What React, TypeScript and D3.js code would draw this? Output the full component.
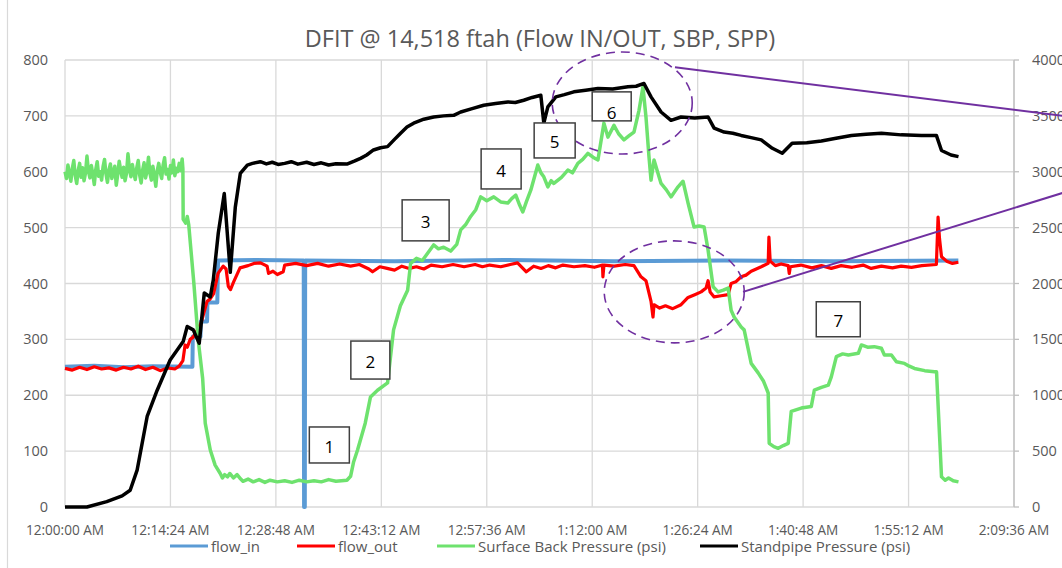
import React from 'react';
import * as d3 from 'd3';

const W = 1062;
const H = 568;

// x axis: minutes after 12:00:00 AM, one tick every 14.4 min
const xTickLabels = [
  '12:00:00 AM', '12:14:24 AM', '12:28:48 AM', '12:43:12 AM', '12:57:36 AM',
  '1:12:00 AM', '1:26:24 AM', '1:40:48 AM', '1:55:12 AM', '2:09:36 AM',
];
const leftTicks = [0, 100, 200, 300, 400, 500, 600, 700, 800];
const rightTicks = [0, 500, 1000, 1500, 2000, 2500, 3000, 3500, 4000];

const seriesNames = ['flow_in', 'flow_out', 'Surface Back Pressure (psi)', 'Standpipe Pressure (psi)'];
const seriesColors = ['#5b9bd5', '#ff0000', '#6ee26e', '#000000'];

// [minute, value]
const flowIn: [number, number][] = [
  [0, 251], [4, 253], [8, 250], [12, 252], [17.4, 251], [17.45, 305], [18.5, 305], [18.55, 332],
  [19.4, 332], [19.45, 366], [20.8, 366], [20.9, 441], [26, 442], [32.6, 441], [32.65, 0],
  [32.75, 0], [32.8, 441], [45, 440], [60, 442], [75, 440], [90, 441], [105, 440], [122.0, 441],
];

const flowOut: [number, number][] = [
  [0, 248], [1, 245], [2, 250], [3, 246], [4, 251], [5, 247], [6, 249], [7, 245], [8, 250],
  [9, 247], [10, 252], [11, 246], [12, 250], [13, 244], [14, 249], [15, 247], [15.6, 252],
  [16.1, 262], [16.4, 290], [16.7, 286], [17.1, 300], [17.5, 304], [18.3, 322], [18.6, 330],
  [19.4, 368], [19.8, 372], [20.3, 382], [20.9, 418], [21.6, 431], [22.0, 426], [22.3, 395],
  [22.6, 389], [23.0, 402], [23.9, 428], [25.0, 432], [25.8, 436], [26.7, 437], [27.6, 431],
  [27.8, 418], [28.4, 422], [29.0, 416], [29.8, 421], [30.0, 433], [31.5, 436], [33, 432],
  [34.5, 436], [36, 431], [37.5, 435], [39, 431], [40.2, 434], [41.5, 426], [42.0, 421],
  [43.0, 430], [44, 427], [45.0, 424], [46.0, 431], [47, 427], [48.0, 430], [49, 426],
  [50.0, 433], [51.5, 430], [53, 434], [54.5, 430], [56, 434], [57, 430], [58, 433],
  [59.5, 430], [60.8, 434], [61.8, 437], [63.0, 421], [64.0, 431], [65, 427], [66.0, 432],
  [67, 428], [68, 433], [69.5, 430], [71, 432], [72.3, 429], [73.4, 433], [73.46, 412],
  [73.6, 433], [75, 431], [76.5, 434], [77.7, 432], [78.66, 412], [79.34, 405], [80.03, 368],
  [80.3, 340], [80.44, 362], [81.2, 356], [82.0, 360], [83, 355], [84.13, 362], [85.09, 375],
  [86.0, 380], [86.87, 385], [87.55, 392], [87.82, 405], [88.1, 385], [88.65, 376],
  [89.6, 378], [90.56, 380], [90.97, 400], [91.6, 403], [92.34, 412], [93.0, 415],
  [93.71, 422], [94.4, 426], [95.08, 430], [96.03, 436], [96.13, 483], [96.3, 440],
  [97.0, 432], [97.8, 435], [98.77, 432], [98.91, 418], [99.05, 430], [100.5, 433],
  [102, 428], [103.3, 432], [104.65, 427], [106.0, 432], [107.5, 429], [109, 433],
  [110.1, 427], [111.5, 431], [113, 428], [114.2, 431], [115.6, 429], [117, 432],
  [119.0, 434], [119.23, 519], [119.43, 480], [119.7, 448], [120.4, 440], [121.2, 436],
  [122.0, 438],
];

const sbp: [number, number][] = [
  [0.0, 600], [0.2, 588], [0.4, 612], [0.6, 597], [0.8, 583], [1.0, 606], [1.2, 620], [1.4, 593],
  [1.6, 579], [1.8, 602], [2.0, 615], [2.2, 590], [2.4, 607], [2.6, 584], [2.8, 598], [3.0, 628],
  [3.2, 601], [3.4, 589], [3.6, 611], [3.8, 595], [4.0, 577], [4.2, 604], [4.4, 618], [4.6, 592],
  [4.8, 600], [5.0, 585], [5.2, 609], [5.4, 622], [5.6, 596], [5.8, 581], [6.0, 603], [6.2, 614],
  [6.4, 588], [6.6, 599], [6.8, 610], [7.0, 576], [7.2, 595], [7.4, 619], [7.6, 603], [7.8, 590],
  [8.0, 608], [8.2, 584], [8.4, 597], [8.6, 632], [8.8, 605], [9.0, 591], [9.2, 613], [9.4, 598],
  [9.6, 586], [9.8, 607], [10.0, 620], [10.2, 594], [10.4, 580], [10.6, 603], [10.8, 616],
  [11.0, 589], [11.2, 601], [11.4, 626], [11.6, 597], [11.8, 585], [12.0, 610], [12.2, 593],
  [12.4, 574], [12.6, 602], [12.8, 615], [13.0, 599], [13.2, 588], [13.4, 612], [13.6, 625],
  [13.8, 596], [14.0, 604], [14.2, 587], [14.4, 611], [14.6, 598], [14.8, 621], [15.0, 593],
  [15.2, 606], [15.4, 600], [15.6, 615], [15.8, 602], [16.0, 623], [16.1, 605],
  [16.14, 515], [16.5, 508], [16.7, 520], [16.9, 505], [17.24, 454], [17.6, 400], [18.19, 299],
  [18.8, 230], [19.15, 150], [19.84, 102], [20.5, 75], [21.2, 60], [21.5, 52], [21.8, 58],
  [22.2, 54], [22.5, 60], [23.0, 52], [23.5, 58], [24.0, 50], [24.3, 46], [25.0, 50], [25.7, 45],
  [26.5, 49], [27.3, 44], [28, 48], [29, 45], [30, 47], [31, 44], [32, 48], [33, 45], [34, 47],
  [35, 45], [36, 49], [37, 46], [38.5, 48], [39.0, 55], [39.4, 80], [39.95, 102], [41.0, 150],
  [41.72, 197], [42.68, 209], [44.05, 222], [44.87, 317], [45.8, 360], [46.79, 388], [47.2, 436],
  [48.0, 445], [48.8, 441], [49.52, 454], [50.34, 469], [51.0, 462], [51.71, 465], [52.67, 458],
  [53.5, 470], [54.04, 496], [54.7, 505], [55.4, 520], [56.1, 532], [56.77, 555], [57.6, 548],
  [58.55, 555], [59.5, 546], [60.47, 544], [61.0, 552], [61.56, 558], [62.1, 540], [62.52, 528],
  [63.0, 546], [63.61, 567], [64.57, 612], [65.0, 598], [65.39, 591], [65.94, 573], [66.4, 584],
  [66.76, 579], [67.8, 590], [68.67, 603], [69.3, 598], [70.04, 615], [70.7, 622], [71.41, 633],
  [72.1, 626], [72.78, 621], [73.6, 687], [74.14, 662], [74.97, 683], [75.6, 668], [76.33, 657],
  [77.0, 664], [77.7, 671], [78.39, 710], [78.93, 752], [79.34, 698], [79.75, 627], [80.03, 585],
  [80.44, 621], [81.4, 579], [82.1, 568], [82.76, 555], [83.72, 573], [84.4, 583], [85.09, 544],
  [85.91, 501], [86.6, 503], [87.28, 501], [87.82, 460], [88.51, 394], [89.19, 385], [89.9, 388],
  [90.56, 392], [90.97, 352], [91.38, 340], [92.34, 322], [92.75, 317], [93.71, 257], [94.66, 240],
  [95.4, 225], [96.03, 204], [96.17, 114], [96.8, 108], [97.4, 105], [98.1, 110], [98.77, 114],
  [99.18, 171], [100.55, 177], [101.92, 180], [102.33, 209], [103.3, 214], [104.24, 218],
  [104.65, 233], [105.34, 269], [106.2, 274], [106.98, 272], [108.34, 275], [108.76, 290],
  [109.6, 286], [110.53, 287], [111.49, 284], [111.9, 272], [112.86, 272], [113.54, 260],
  [114.64, 257], [115.3, 252], [116.0, 248], [117.4, 244], [118.74, 242], [119.02, 242],
  [119.7, 54], [120.2, 48], [120.66, 52], [121.3, 47], [122.02, 45],
];

// standpipe pressure, right axis (psi)
const spp: [number, number][] = [
  [0, 0], [3.0, 0], [5.7, 48], [7.8, 100], [8.9, 150], [9.85, 330], [11.22, 810], [12.59, 1045],
  [14.36, 1315], [16.14, 1480], [16.69, 1615], [17.51, 1585], [18.33, 1465], [19.02, 1915],
  [19.84, 1880], [20.25, 2030], [20.93, 2450], [21.75, 2805], [22.57, 2100], [23.26, 2685],
  [23.94, 2985], [24.9, 3060], [25.6, 3075], [26.68, 3090], [27.5, 3070], [28.3, 3085],
  [29.1, 3065], [30, 3075], [30.9, 3090], [31.8, 3068], [33, 3085], [34, 3065], [35, 3080],
  [36, 3060], [37, 3072], [38.58, 3070], [39.5, 3095], [40.36, 3120], [41.2, 3150], [42.13, 3195],
  [43.1, 3215], [44.05, 3225], [45.0, 3290], [45.83, 3345], [46.7, 3400], [47.61, 3435],
  [49.0, 3470], [50.34, 3490], [51.7, 3500], [53.08, 3505], [54.04, 3535], [55.6, 3565],
  [57.18, 3595], [58.8, 3610], [60.47, 3625], [61.5, 3620], [62.65, 3640], [63.8, 3665],
  [64.98, 3685], [65.39, 3435], [65.94, 3580], [67.03, 3670], [68.2, 3690], [69.49, 3715],
  [71.1, 3730], [72.78, 3745], [74.8, 3740], [76.88, 3760], [78.0, 3765], [79.07, 3790],
  [80.03, 3670], [81.4, 3535], [82.76, 3460], [84.13, 3490], [86.0, 3480], [87.82, 3490],
  [88.65, 3390], [90.01, 3355], [91.2, 3345], [92.34, 3325], [93.7, 3305], [95.08, 3285],
  [96.6, 3210], [97.95, 3165], [99.3, 3255], [101.3, 3260], [103.3, 3275], [105.3, 3300],
  [107.4, 3325], [109.4, 3335], [111.5, 3345], [114.2, 3330], [116.96, 3325], [119.0, 3325],
  [119.7, 3190], [121.0, 3150], [122.02, 3135],
];

// numbered call-outs: [label, minute, left-axis value]
const callouts: [string, number, number][] = [
  ['1', 36.1, 111], ['2', 41.7, 263], ['3', 49.25, 513], ['4', 59.56, 605],
  ['5', 66.87, 656], ['6', 74.66, 717], ['7', 105.6, 336],
];
const calloutSize = [[40, 36], [39, 38], [47, 41], [40, 40], [41, 35], [39, 29], [44, 35]];

// dashed rings: [minute, value] centres
const rings: [number, number][] = [[76.1, 723], [83.2, 385]];
// pointer lines: from [minute, value] to [minute, value]
const pointers: [number, number, number, number][] = [
  [83.3, 787, 136.2, 700],
  [92.6, 385, 136.2, 562],
];

const FONT = '"Open Sans", "Liberation Sans", Arial, sans-serif';

export default function App() {
  const left = 65, right = 1014, top = 60, bottom = 507;
  const x = d3.scaleLinear().domain([0, 129.6]).range([left, right]);
  const yL = d3.scaleLinear().domain([0, 800]).range([bottom, top]);
  const yR = d3.scaleLinear().domain([0, 4000]).range([bottom, top]);

  const lineL = d3.line<[number, number]>().x(d => x(d[0])).y(d => yL(d[1]));
  const lineR = d3.line<[number, number]>().x(d => x(d[0])).y(d => yR(d[1]));

  const xTicks = xTickLabels.map((_, i) => i * 14.4);
  const grid = '#d9d9d9';
  const txt = '#595959';

  const legendX = [170, 297, 437, 700];

  return (
    <svg width={W} height={H} style={{ position: 'absolute', left: 0, top: 0, background: '#fff' }}
      fontFamily={FONT}>
      <rect width={W} height={H} fill="#fff" />
      <line x1={7.5} x2={7.5} y1={0} y2={H} stroke="#d9d9d9" strokeWidth={1.2} />

      <text x={540} y={47} textAnchor="middle" fontSize={23.5} fill={txt}>
        DFIT @ 14,518 ftah (Flow IN/OUT, SBP, SPP)
      </text>

      {/* grid */}
      {leftTicks.map(t => (
        <line key={'h' + t} x1={left} x2={right} y1={yL(t)} y2={yL(t)} stroke={grid} strokeWidth={1.3} />
      ))}
      {xTicks.map(t => (
        <line key={'v' + t} x1={x(t)} x2={x(t)} y1={top} y2={bottom} stroke={grid} strokeWidth={1.3} />
      ))}
      <line x1={right} x2={right} y1={top} y2={bottom} stroke="#bfbfbf" strokeWidth={1.3} />
      {rightTicks.map(t => (
        <line key={'rt' + t} x1={right} x2={right + 5} y1={yR(t)} y2={yR(t)} stroke="#bfbfbf" strokeWidth={1.3} />
      ))}

      {/* axis labels */}
      {leftTicks.map(t => (
        <text key={'l' + t} x={48} y={yL(t)} dy="0.35em" textAnchor="end" fontSize={14.5} fill={txt}>{t}</text>
      ))}
      {rightTicks.map(t => (
        <text key={'r' + t} x={1032} y={yR(t)} dy="0.35em" fontSize={14.5} fill={txt}>{t}</text>
      ))}
      {xTickLabels.map((lab, i) => (
        <text key={lab} x={x(xTicks[i])} y={534.5} textAnchor="middle" fontSize={13.6} fill={txt}>{lab}</text>
      ))}

      {/* series */}
      <path d={lineL(flowIn) || ''} fill="none" stroke={seriesColors[0]} strokeWidth={4} strokeLinejoin="round" />
      <path d={lineL(flowOut) || ''} fill="none" stroke={seriesColors[1]} strokeWidth={3.2} strokeLinejoin="round" />
      <path d={lineL(sbp) || ''} fill="none" stroke={seriesColors[2]} strokeWidth={3.5} strokeLinejoin="round" />
      <path d={lineR(spp) || ''} fill="none" stroke={seriesColors[3]} strokeWidth={3.5} strokeLinejoin="round" />

      {/* annotations */}
      {rings.map(([t, v], i) => (
        <ellipse key={'e' + i} cx={x(t)} cy={yL(v)} rx={70} ry={51} fill="none" stroke="#7030a0"
          strokeWidth={1.6} strokeDasharray="9 6" />
      ))}
      {pointers.map(([t1, v1, t2, v2], i) => (
        <line key={'p' + i} x1={x(t1)} y1={yL(v1)} x2={x(t2)} y2={yL(v2)} stroke="#7030a0" strokeWidth={2} />
      ))}
      {callouts.map(([lab, t, v], i) => {
        const [w, h] = calloutSize[i];
        const cx = x(t), cy = yL(v);
        return (
          <g key={'c' + lab}>
            <rect x={cx - w / 2} y={cy - h / 2} width={w} height={h} fill="#fff" stroke="#404040" strokeWidth={1.5} />
            <text x={cx} y={lab === '6' ? cy + 7 : cy + 2} dy="0.35em" textAnchor="middle" fontSize={17} fill="#000">{lab}</text>
          </g>
        );
      })}

      {/* legend */}
      {seriesNames.map((name, i) => (
        <g key={name}>
          <line x1={legendX[i]} x2={legendX[i] + 38} y1={546} y2={546} stroke={seriesColors[i]} strokeWidth={3} />
          <text x={legendX[i] + 41} y={551.5} fontSize={15} fill={txt}>{name}</text>
        </g>
      ))}
    </svg>
  );
}
